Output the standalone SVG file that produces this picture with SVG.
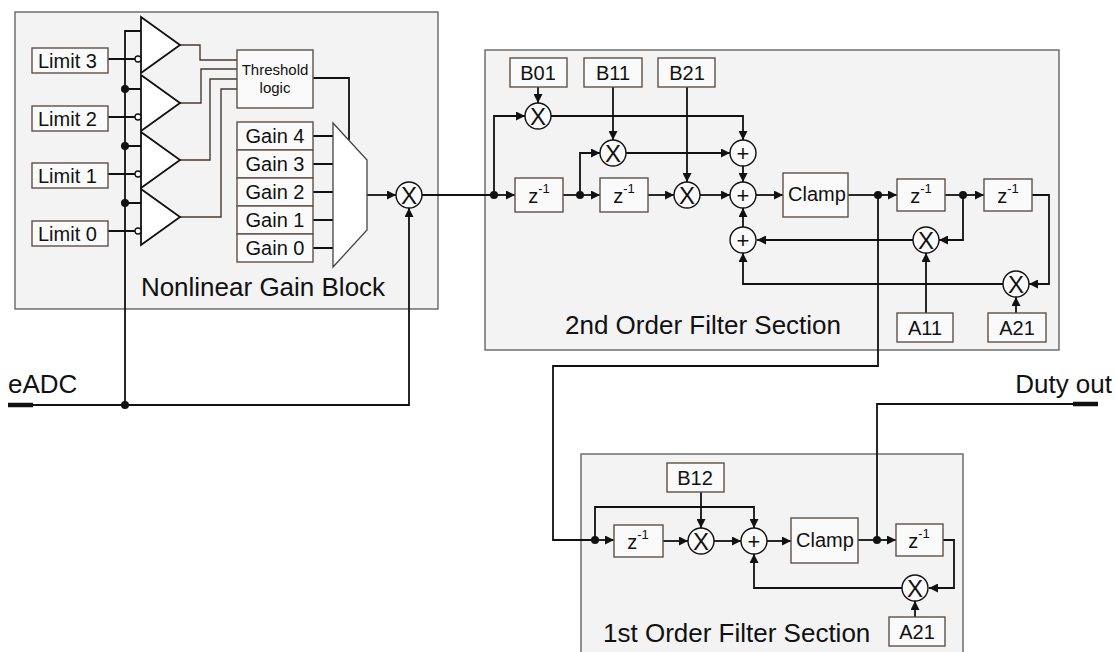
<svg xmlns="http://www.w3.org/2000/svg" width="1117" height="652" viewBox="0 0 1117 652">
<defs>
<marker id="ah" markerUnits="userSpaceOnUse" markerWidth="9" markerHeight="9" refX="9" refY="4.5" orient="auto">
<path d="M0,0 L9,4.5 L0,9 z" fill="#111"/>
</marker>
<style>
.panel{fill:#f3f3f3;stroke:#5a5a5a;stroke-width:1.3}
.box{fill:#fafafa;stroke:#5e5048;stroke-width:1.4}
.tri{fill:#fff;stroke:#111;stroke-width:1.8}
.ln{fill:none;stroke:#111;stroke-width:1.8}
.lt{fill:none;stroke:#4a3a30;stroke-width:1.4}
.arr{fill:none;stroke:#111;stroke-width:1.8;marker-end:url(#ah)}
.dot{fill:#111}
.circ{fill:#fafafa;stroke:#111;stroke-width:1.4}
.inv{fill:#fff;stroke:#111;stroke-width:1.3}
text{font-family:"Liberation Sans",Arial,sans-serif;fill:#111}
.t20{font-size:20px}
.t26{font-size:26px}
.mid{text-anchor:middle}
.op{font-size:24px;text-anchor:middle}
.pl{font-size:22px;text-anchor:middle}
</style>
</defs>
<rect width="1117" height="652" fill="#fff"/>

<!-- panels -->
<g id="panel-nonlinear">
<rect class="panel" x="15" y="12" width="423" height="297"/>
<text class="t26 mid" x="263" y="296">Nonlinear Gain Block</text>
</g>
<g id="panel-2nd">
<rect class="panel" x="485" y="50" width="574" height="300"/>
<text class="t26" x="565" y="334">2nd Order Filter Section</text>
</g>
<g id="panel-1st">
<rect class="panel" x="581" y="454" width="382" height="220"/>
<text class="t26" x="603" y="642">1st Order Filter Section</text>
</g>

<!-- connectors -->
<g id="connectors">
<!-- comparator bus -->
<path class="ln" d="M141,31 H125 V405"/>
<path class="ln" d="M125,89 H141 M125,146 H141 M125,203 H141"/>
<path class="ln" d="M108,59 H135 M108,117 H135 M108,174 H135 M108,231 H135"/>
<!-- comparator outputs -->
<path class="lt" d="M180,45 H200 V60 H237"/>
<path class="lt" d="M180,103 H201 V69 H237"/>
<path class="lt" d="M180,160 H210 V79 H237"/>
<path class="lt" d="M180,217 H221 V89 H237"/>
<path class="ln" d="M313,78 H349 V140"/>
<path class="ln" d="M313,136 H333 M313,164 H333 M313,192 H333 M313,220 H333 M313,248 H333"/>
<path class="arr" d="M367,195 H396"/>
<!-- eADC -->
<path d="M8,405 H33" stroke="#111" stroke-width="4.5" fill="none"/>
<path class="arr" d="M33,405 H409 V208"/>
<path class="ln" d="M422,195 H494"/>
<!-- 2nd order -->
<path class="arr" d="M494,195 V116 H525"/>
<path class="arr" d="M538,87 V103"/>
<path class="arr" d="M494,195 H515"/>
<path class="ln" d="M563,195 H580"/>
<path class="arr" d="M580,195 H600"/>
<path class="arr" d="M580,195 V153 H600"/>
<path class="arr" d="M613,87 V140"/>
<path class="arr" d="M648,195 H674"/>
<path class="arr" d="M687,87 V182"/>
<path class="arr" d="M700,195 H730"/>
<path class="arr" d="M551,116 H743 V140"/>
<path class="arr" d="M626,153 H730"/>
<path class="arr" d="M743,166 V182"/>
<path class="arr" d="M743,227 V208"/>
<path class="arr" d="M756,195 H783"/>
<path class="ln" d="M848,195 H878"/>
<path class="arr" d="M878,195 H897"/>
<path class="ln" d="M945,195 H963"/>
<path class="arr" d="M963,195 H984"/>
<path class="arr" d="M963,195 V240 H939"/>
<path class="arr" d="M913,240 H757"/>
<path class="arr" d="M1032,195 H1049 V284 H1029"/>
<path class="arr" d="M1003,284 H743 V253"/>
<path class="arr" d="M926,313 V253"/>
<path class="arr" d="M1016,313 V297"/>
<!-- link to 1st order -->
<path class="ln" d="M878,195 V366 H553 V540 H595"/>
<!-- 1st order -->
<path class="arr" d="M595,540 V507 H754 V528"/>
<path class="arr" d="M595,540 H614"/>
<path class="arr" d="M663,541 H688"/>
<path class="arr" d="M701,492 V528"/>
<path class="arr" d="M714,541 H741"/>
<path class="arr" d="M767,541 H791"/>
<path class="ln" d="M858,540 H877"/>
<path class="arr" d="M877,540 H896"/>
<path class="arr" d="M943,540 H954 V588 H929"/>
<path class="arr" d="M902,588 H754 V554"/>
<path class="arr" d="M915,617 V601"/>
<!-- Duty out -->
<path class="ln" d="M877,540 V404 H1073"/>
<path d="M1073,404 H1098" stroke="#111" stroke-width="4.5" fill="none"/>
<!-- junction dots -->
<circle class="dot" cx="125" cy="89" r="4"/>
<circle class="dot" cx="125" cy="146" r="4"/>
<circle class="dot" cx="125" cy="203" r="4"/>
<circle class="dot" cx="125" cy="405" r="4"/>
<circle class="dot" cx="494" cy="195" r="4"/>
<circle class="dot" cx="580" cy="195" r="4"/>
<circle class="dot" cx="878" cy="195" r="4"/>
<circle class="dot" cx="963" cy="195" r="4"/>
<circle class="dot" cx="595" cy="540" r="4"/>
<circle class="dot" cx="877" cy="540" r="4"/>
</g>

<!-- Nonlinear gain block nodes -->
<g id="limit3"><rect class="box" x="32" y="48" width="76" height="25"/><text class="t20" x="38" y="68">Limit 3</text></g>
<g id="limit2"><rect class="box" x="32" y="106" width="76" height="25"/><text class="t20" x="38" y="126">Limit 2</text></g>
<g id="limit1"><rect class="box" x="32" y="163" width="76" height="25"/><text class="t20" x="38" y="183">Limit 1</text></g>
<g id="limit0"><rect class="box" x="32" y="221" width="76" height="25"/><text class="t20" x="38" y="241">Limit 0</text></g>

<g id="comp3"><polygon class="tri" points="141,17 180,45 141,73"/><circle class="inv" cx="138" cy="59" r="3"/></g>
<g id="comp2"><polygon class="tri" points="141,75 180,103 141,131"/><circle class="inv" cx="138" cy="117" r="3"/></g>
<g id="comp1"><polygon class="tri" points="141,132 180,160 141,188"/><circle class="inv" cx="138" cy="174" r="3"/></g>
<g id="comp0"><polygon class="tri" points="141,189 180,217 141,245"/><circle class="inv" cx="138" cy="231" r="3"/></g>

<g id="threshold"><rect class="box" x="237" y="50" width="76" height="58"/>
<text class="mid" x="275" y="75" font-size="15">Threshold</text>
<text class="mid" x="275" y="93" font-size="15">logic</text></g>

<g id="gains">
<rect class="box" x="237" y="122" width="76" height="28"/><text class="t20 mid" x="275" y="143">Gain 4</text>
<rect class="box" x="237" y="150" width="76" height="28"/><text class="t20 mid" x="275" y="171">Gain 3</text>
<rect class="box" x="237" y="178" width="76" height="28"/><text class="t20 mid" x="275" y="199">Gain 2</text>
<rect class="box" x="237" y="206" width="76" height="28"/><text class="t20 mid" x="275" y="227">Gain 1</text>
<rect class="box" x="237" y="234" width="76" height="28"/><text class="t20 mid" x="275" y="255">Gain 0</text>
</g>
<g id="mux"><polygon fill="#fff" stroke="#444" stroke-width="1.3" points="333,123 367,160 367,230 333,267"/></g>
<g id="mult-gain"><circle class="circ" cx="409" cy="195" r="13"/><text class="op" x="409" y="204">X</text></g>

<g id="eadc"><text class="t26" x="8" y="393">eADC</text></g>
<g id="dutyout"><text class="t26" x="1112" y="393" text-anchor="end">Duty out</text></g>

<!-- 2nd order nodes -->
<g id="b01"><rect class="box" x="510" y="58" width="57" height="29"/><text class="t20 mid" x="538" y="80">B01</text></g>
<g id="b11"><rect class="box" x="584" y="58" width="58" height="29"/><text class="t20 mid" x="613" y="80">B11</text></g>
<g id="b21"><rect class="box" x="658" y="58" width="57" height="29"/><text class="t20 mid" x="687" y="80">B21</text></g>
<g id="m-b01"><circle class="circ" cx="538" cy="116" r="13"/><text class="op" x="538" y="125">X</text></g>
<g id="m-b11"><circle class="circ" cx="613" cy="153" r="13"/><text class="op" x="613" y="162">X</text></g>
<g id="m-b21"><circle class="circ" cx="687" cy="195" r="13"/><text class="op" x="687" y="204">X</text></g>
<g id="z1"><rect class="box" x="515" y="178" width="48" height="34"/><text class="t20 mid" x="539" y="203">z<tspan font-size="13" dy="-10">-1</tspan></text></g>
<g id="z2"><rect class="box" x="600" y="178" width="48" height="34"/><text class="t20 mid" x="624" y="203">z<tspan font-size="13" dy="-10">-1</tspan></text></g>
<g id="add-top"><circle class="circ" cx="743" cy="153" r="13"/><text class="pl" x="743" y="161">+</text></g>
<g id="add-mid"><circle class="circ" cx="743" cy="195" r="13"/><text class="pl" x="743" y="203">+</text></g>
<g id="add-bot"><circle class="circ" cx="743" cy="240" r="13"/><text class="pl" x="743" y="248">+</text></g>
<g id="clamp2"><rect class="box" x="783" y="173" width="65" height="44"/><text class="t20" x="788" y="201">Clamp</text></g>
<g id="z3"><rect class="box" x="897" y="179" width="48" height="32"/><text class="t20 mid" x="921" y="203">z<tspan font-size="13" dy="-10">-1</tspan></text></g>
<g id="z4"><rect class="box" x="984" y="179" width="48" height="32"/><text class="t20 mid" x="1008" y="203">z<tspan font-size="13" dy="-10">-1</tspan></text></g>
<g id="m-a11"><circle class="circ" cx="926" cy="240" r="13"/><text class="op" x="926" y="249">X</text></g>
<g id="m-a21"><circle class="circ" cx="1016" cy="284" r="13"/><text class="op" x="1016" y="293">X</text></g>
<g id="a11"><rect class="box" x="897" y="313" width="56" height="29"/><text class="t20 mid" x="925" y="335">A11</text></g>
<g id="a21"><rect class="box" x="988" y="313" width="58" height="29"/><text class="t20 mid" x="1017" y="335">A21</text></g>

<!-- 1st order nodes -->
<g id="b12"><rect class="box" x="667" y="463" width="57" height="29"/><text class="t20 mid" x="695" y="485">B12</text></g>
<g id="z5"><rect class="box" x="614" y="525" width="49" height="32"/><text class="t20 mid" x="638" y="549">z<tspan font-size="13" dy="-10">-1</tspan></text></g>
<g id="m-b12"><circle class="circ" cx="701" cy="541" r="13"/><text class="op" x="701" y="550">X</text></g>
<g id="add1"><circle class="circ" cx="754" cy="541" r="13"/><text class="pl" x="754" y="549">+</text></g>
<g id="clamp1"><rect class="box" x="791" y="518" width="67" height="45"/><text class="t20" x="796" y="547">Clamp</text></g>
<g id="z6"><rect class="box" x="896" y="524" width="47" height="32"/><text class="t20 mid" x="919" y="548">z<tspan font-size="13" dy="-10">-1</tspan></text></g>
<g id="m-a21b"><circle class="circ" cx="915" cy="588" r="13"/><text class="op" x="915" y="597">X</text></g>
<g id="a21b"><rect class="box" x="889" y="617" width="56" height="29"/><text class="t20 mid" x="917" y="639">A21</text></g>
</svg>
